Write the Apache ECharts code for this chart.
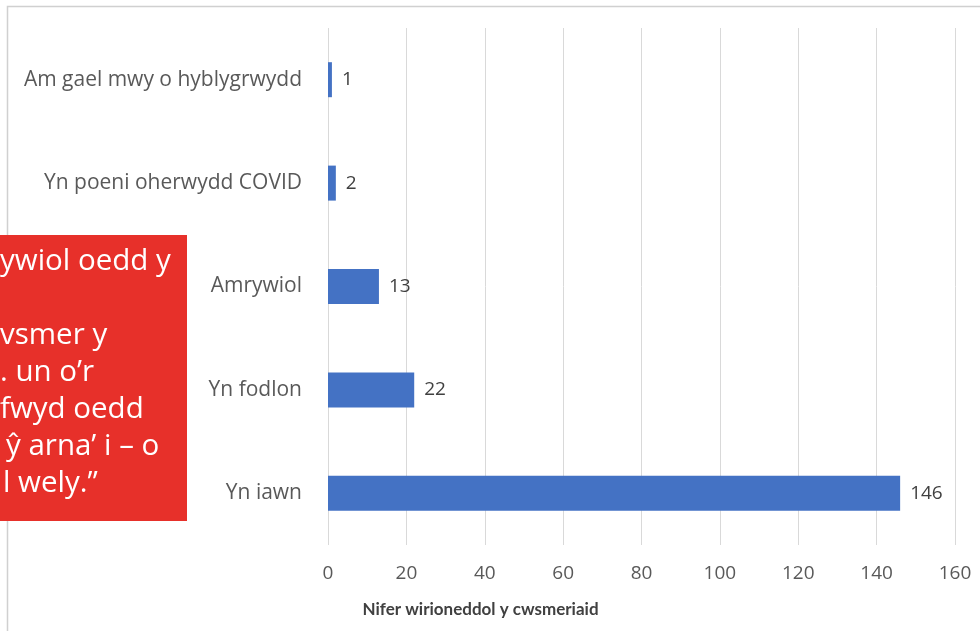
<!DOCTYPE html>
<html>
<head>
<meta charset="utf-8">
<script src="https://cdn.jsdelivr.net/npm/echarts@6/dist/echarts.min.js"></script>
<style>
html,body{margin:0;padding:0;background:#fff;}
#chart{width:980px;height:631px;}
</style>
</head>
<body>
<div id="chart"></div>
<script>
var categories = ['Yn iawn', 'Yn fodlon', 'Amrywiol', 'Yn poeni oherwydd COVID', 'Am gael mwy o hyblygrwydd'];
var values = [146, 22, 13, 2, 1];
var xTicks = [0, 20, 40, 60, 80, 100, 120, 140, 160];
var axisTitle = 'Nifer wirioneddol y cwsmeriaid';
var quoteLines = ['ywiol oedd y', '', 'vsmer y', '. un o\u2019r', 'fwyd oedd', '\u0177 arna\u2019 i \u2013 o', 'l wely.\u201d'];
var quoteX = [0, 0, 0, 0, 0, 6, 3];

var FONT = '"Open Sans", Lato, sans-serif';
var TFONT = 'Lato, "Open Sans", sans-serif';
var chart = echarts.init(document.getElementById('chart'));

var graphics = [
  { type: 'polyline', shape: { points: [[7.5, 631], [7.5, 6.5], [980, 6.5]] }, style: { stroke: '#d0d0d0', lineWidth: 1.5, fill: null }, z: 0 },
  { type: 'rect', shape: { x: -10, y: 235, width: 197, height: 286 }, style: { fill: '#e7302a' }, z: 10 }
];
quoteLines.forEach(function (t, i) {
  graphics.push({
    type: 'text', left: quoteX[i], top: 247 + i * 37, z: 11,
    style: { text: t, fill: '#ffffff', font: '29.5px ' + FONT }
  });
});

chart.setOption({
  animation: false,
  grid: { left: 328, right: 25, top: 28, bottom: 86, containLabel: false },
  xAxis: {
    type: 'value', min: 0, max: 160, interval: 20,
    axisLine: { show: false }, axisTick: { show: false },
    splitLine: { show: true, lineStyle: { color: '#d9d9d9', width: 1 } },
    axisLabel: {
      color: '#595959', fontSize: 19, fontFamily: FONT, margin: 19,
      customValues: xTicks
    },
    name: axisTitle, nameLocation: 'middle', nameGap: 56,
    nameTextStyle: { color: '#404040', fontSize: 17, fontWeight: 'bold', fontFamily: TFONT, padding: [0, 322, 0, 0] }
  },
  yAxis: {
    type: 'category', data: categories,
    axisLine: { show: false }, axisTick: { show: false },
    axisLabel: { color: '#595959', fontSize: 21, fontFamily: FONT, margin: 26 }
  },
  series: [{
    type: 'bar', data: values, barWidth: 35,
    itemStyle: { color: '#4472c4' },
    label: { show: true, position: 'right', distance: 10, color: '#404040', fontSize: 19, fontFamily: FONT }
  }],
  graphic: graphics
});
</script>
</body>
</html>
